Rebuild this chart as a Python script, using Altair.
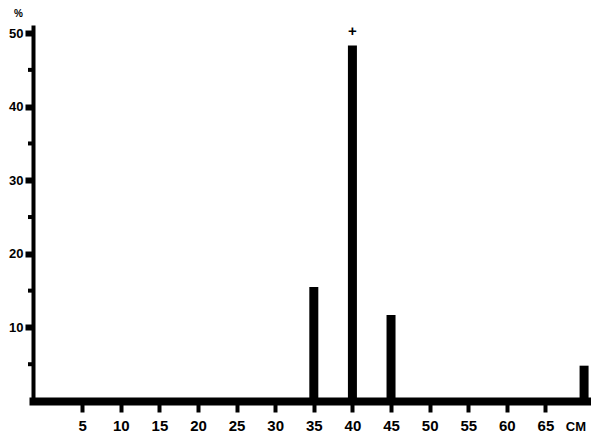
import altair as alt
import pandas as pd

# Data
lengths = [35, 40, 45, 70]
percents = [15.5, 48.3, 11.7, 4.8]
x_ticks = [5, 10, 15, 20, 25, 30, 35, 40, 45, 50, 55, 60, 65]
y_ticks = [10, 20, 30, 40, 50]
y_minor = [5, 15, 25, 35, 45]
peak_len = [40]
peak_pct = [48.3]
peak_mark = ["+"]
unit_pos = [70]
unit_lbl = ["CM"]

FONT = "Liberation Sans"

bars_df = pd.DataFrame({"len": lengths, "pct": percents})
minor_df = pd.DataFrame({"v": y_minor})
peak_df = pd.DataFrame({"len": peak_len, "pct": peak_pct, "t": peak_mark})
unit_df = pd.DataFrame({"len": unit_pos, "t": unit_lbl})

xs = alt.Scale(domain=[-0.72, 70.25], nice=False, zero=False)
ys = alt.Scale(domain=[0, 51.1], nice=False)

bars = alt.Chart(bars_df).mark_bar(width=9, color="black", clip=False).encode(
    x=alt.X("len:Q", scale=xs, axis=alt.Axis(
        values=x_ticks, title=None, grid=False,
        domainColor="black", domainWidth=8, domainCap="square",
        tickColor="black", tickWidth=4, tickSize=11,
        labelFont=FONT, labelFontSize=15, labelFontWeight="bold",
        labelColor="black", labelPadding=6, labelFlush=False)),
    y=alt.Y("pct:Q", scale=ys, axis=alt.Axis(
        values=y_ticks, title="%", titleAngle=0, titleX=-15, titleY=-12,
        titleFont=FONT, titleFontSize=10, titleFontWeight="bold",
        titleAlign="center", titleBaseline="middle", titleColor="black",
        grid=False, domainColor="black", domainWidth=4,
        tickColor="black", tickWidth=6, tickSize=8,
        labelFont=FONT, labelFontSize=13, labelFontWeight="bold",
        labelColor="black", labelPadding=2)),
)

minor = alt.Chart(minor_df).mark_rule(color="black", strokeWidth=4).encode(
    y=alt.Y("v:Q", scale=ys),
    x=alt.value(-5),
    x2=alt.value(0),
)

peak = alt.Chart(peak_df).mark_text(
    dy=-15, font=FONT, fontSize=15, fontWeight="bold", color="black"
).encode(
    x=alt.X("len:Q", scale=xs),
    y=alt.Y("pct:Q", scale=ys),
    text="t:N",
)

unit = alt.Chart(unit_df).mark_text(
    font=FONT, fontSize=13, fontWeight="bold", color="black",
    baseline="middle", align="right", dx=2
).encode(
    x=alt.X("len:Q", scale=xs),
    y=alt.value(376 + 26),
    text="t:N",
)

chart = alt.layer(minor, bars, peak, unit).properties(
    width=558, height=376,
    autosize=alt.AutoSizeParams(type="none"),
    padding={"left": 25, "top": 17, "right": 0, "bottom": 34},
    background="white",
).configure_view(stroke=None)

chart.save("out.html", embed_options={"renderer": "svg", "actions": False})
